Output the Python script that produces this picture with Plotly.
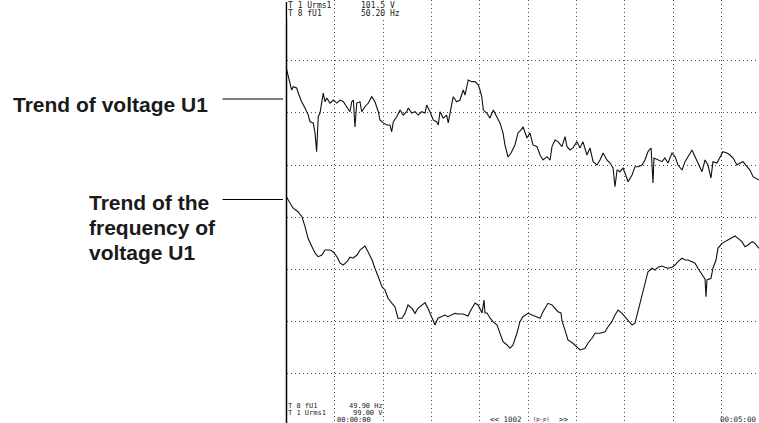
import plotly.graph_objects as go

# ---- recorded trend data (time in seconds from 00:00:00) ----
volt_t = [0.0, 1.1, 2.2, 3.2, 4.2, 6.3, 7.3, 9.4, 11.5, 13.5, 14.6, 16.6, 17.7, 18.7, 19.7, 20.8, 21.8, 22.8, 23.9, 25.0,
          27.0, 29.1, 31.2, 33.2, 35.3, 37.4, 39.4, 40.5, 41.5, 42.5, 43.6, 45.6, 46.7, 48.7, 50.8, 52.9, 54.9, 57.0, 58.0, 60.1,
          62.2, 64.2, 65.3, 66.3, 68.4, 70.5, 72.5, 74.6, 75.6, 77.7, 79.8, 81.8, 83.9, 86.0, 87.0, 89.1, 91.1, 93.2, 94.2, 95.3,
          97.3, 99.4, 100.4, 101.5, 103.5, 105.6, 107.7, 109.7, 110.8, 112.8, 115.0, 117.0, 119.1, 120.1, 121.2, 122.2, 124.3, 126.3, 128.4, 130.5,
          132.5, 134.4, 135.6, 137.5, 139.4, 141.8, 143.7, 145.6, 146.8, 149.3, 151.1, 153.0, 155.5, 157.4, 159.2, 161.7, 163.6, 164.8, 166.7, 168.5,
          171.0, 172.9, 174.1, 176.0, 177.8, 180.3, 182.2, 184.0, 186.5, 188.4, 190.3, 192.7, 194.6, 196.5, 198.9, 200.8, 202.7, 203.9, 205.2, 207.0,
          208.9, 210.1, 212.0, 214.5, 216.3, 218.2, 220.7, 222.5, 224.4, 226.3, 227.5, 228.1, 230.6, 233.1, 234.9, 236.8, 239.3, 241.2, 243.0, 245.5,
          247.4, 249.2, 251.7, 253.6, 255.4, 257.9, 259.8, 261.6, 263.5, 264.7, 267.2, 269.1, 270.9, 273.4, 275.3, 277.2, 279.6, 281.5, 283.4, 285.8,
          287.7, 289.6, 293.3]
volt_u1 = [101.138, 101.092, 101.042, 101.012, 101.032, 101.024, 100.994, 100.942, 100.904, 100.862, 100.822, 100.815, 100.755, 100.643, 100.852, 100.874, 100.934, 100.994, 100.942, 100.964,
           100.934, 100.952, 100.934, 100.952, 100.942, 100.912, 100.882, 100.942, 100.952, 100.791, 100.934, 100.942, 100.882, 100.912, 100.934, 100.972, 100.942, 100.882, 100.833, 100.815,
           100.803, 100.803, 100.762, 100.822, 100.852, 100.892, 100.862, 100.882, 100.904, 100.874, 100.882, 100.862, 100.882, 100.874, 100.922, 100.882, 100.833, 100.822, 100.803, 100.882,
           100.844, 100.862, 100.815, 100.874, 100.972, 100.942, 100.952, 101.012, 100.982, 101.072, 101.062, 101.062, 101.042, 101.012, 100.972, 100.892, 100.874, 100.844, 100.892, 100.852,
           100.815, 100.755, 100.683, 100.611, 100.635, 100.683, 100.755, 100.773, 100.792, 100.725, 100.755, 100.683, 100.673, 100.623, 100.593, 100.613, 100.593, 100.673, 100.713, 100.703,
           100.673, 100.733, 100.673, 100.653, 100.665, 100.703, 100.665, 100.703, 100.623, 100.665, 100.583, 100.563, 100.593, 100.635, 100.593, 100.575, 100.545, 100.433, 100.533, 100.523,
           100.545, 100.515, 100.463, 100.503, 100.553, 100.553, 100.563, 100.593, 100.643, 100.665, 100.455, 100.605, 100.593, 100.583, 100.605, 100.575, 100.635, 100.613, 100.563, 100.533,
           100.583, 100.613, 100.653, 100.613, 100.575, 100.523, 100.593, 100.563, 100.485, 100.583, 100.575, 100.613, 100.643, 100.635, 100.623, 100.605, 100.563, 100.575, 100.583, 100.553,
           100.533, 100.493, 100.473]

freq_t = [0.0, 2.2, 4.0, 7.1, 9.6, 11.5, 13.3, 15.8, 17.7, 19.6, 22.0, 23.9, 27.0, 28.9, 31.3, 33.2, 35.1, 37.6, 39.4, 41.3,
          43.8, 45.6, 48.7, 50.6, 53.1, 54.9, 56.8, 59.3, 61.1, 63.0, 65.5, 67.3, 69.2, 71.7, 73.6, 75.4, 77.9, 79.8, 81.6, 84.1,
          86.0, 87.8, 90.3, 92.2, 94.0, 96.5, 98.4, 100.2, 102.7, 104.6, 106.5, 109.6, 112.7, 113.9, 117.0, 118.9, 121.4, 122.6, 123.2, 124.5,
          126.3, 128.2, 130.7, 132.5, 134.4, 136.9, 138.7, 140.6, 143.1, 144.9, 146.8, 149.9, 152.4, 155.5, 157.4, 159.2, 162.3, 164.8, 166.7, 168.5,
          170.4, 171.0, 172.9, 174.7, 177.8, 180.3, 182.2, 185.3, 187.2, 189.6, 191.5, 194.6, 197.7, 199.6, 202.0, 203.9, 205.8, 208.3, 210.1, 212.0,
          214.5, 216.3, 218.2, 220.7, 222.5, 224.4, 226.9, 228.7, 230.6, 233.1, 234.9, 236.8, 239.3, 241.2, 243.0, 245.5, 247.4, 249.2, 251.7, 253.6,
          255.4, 257.9, 259.8, 260.4, 261.0, 263.5, 264.7, 266.6, 267.8, 270.3, 272.2, 274.1, 276.5, 278.4, 280.3, 282.7, 284.6, 286.5, 289.0, 290.8,
          293.3]
freq_u1 = [50.0646, 50.0603, 50.0567, 50.0540, 50.0504, 50.0433, 50.0351, 50.0289, 50.0244, 50.0217, 50.0229, 50.0265, 50.0265, 50.0253, 50.0217, 50.0172, 50.0157, 50.0181, 50.0213, 50.0206,
           50.0229, 50.0265, 50.0294, 50.0253, 50.0193, 50.0134, 50.0073, 50.0002, 49.9978, 49.9918, 49.9882, 49.9858, 49.9775, 49.9775, 49.9810, 49.9870, 49.9846, 49.9810, 49.9846, 49.9870,
           49.9887, 49.9846, 49.9775, 49.9726, 49.9775, 49.9786, 49.9798, 49.9786, 49.9798, 49.9810, 49.9805, 49.9805, 49.9791, 49.9822, 49.9884, 49.9870, 49.9813, 49.9906, 49.9813, 49.9813,
           49.9777, 49.9750, 49.9726, 49.9669, 49.9606, 49.9583, 49.9559, 49.9583, 49.9669, 49.9750, 49.9786, 49.9810, 49.9798, 49.9786, 49.9775, 49.9822, 49.9882, 49.9870, 49.9846, 49.9822,
           49.9813, 49.9755, 49.9690, 49.9619, 49.9595, 49.9570, 49.9547, 49.9559, 49.9597, 49.9631, 49.9667, 49.9667, 49.9678, 49.9714, 49.9750, 49.9798, 49.9834, 49.9810, 49.9786, 49.9762,
           49.9726, 49.9739, 49.9822, 49.9942, 50.0014, 50.0109, 50.0134, 50.0121, 50.0141, 50.0150, 50.0141, 50.0134, 50.0141, 50.0157, 50.0181, 50.0206, 50.0193, 50.0193, 50.0181, 50.0170,
           50.0134, 50.0086, 50.0055, 49.9930, 50.0050, 50.0062, 50.0134, 50.0193, 50.0277, 50.0313, 50.0325, 50.0337, 50.0349, 50.0366, 50.0349, 50.0325, 50.0289, 50.0301, 50.0325, 50.0313,
           50.0277]

assert len(volt_t) == len(volt_u1)
assert len(freq_t) == len(freq_u1)

# ---- screen scale settings (full scale = 8 vertical divisions, 30 s per division) ----
volt_scale = [99.00, 101.5]      # V, bottom / top
freq_scale = [49.90, 50.20]      # Hz, bottom / top
sec_per_div = 30
n_vdiv = 8

top_labels = ["T 1 Urms1", "T 8 fU1"]
top_values = ["101.5 V", "50.20 Hz"]
bottom_labels = ["T 8 fU1", "T 1 Urms1"]
bottom_values = ["49.90 Hz", "99.00 V"]
time_start, time_end = "00:00:00", "00:05:00"
point_count = "1002"

# ---- page geometry (pixels) ----
W, H = 759, 423
left_px = 286.5          # left frame of the trend window
top_px = 0.0             # top of the trend window
div_w = 48.33            # px per horizontal division
div_h = 52.2             # px per vertical division
scale_top_px = 8.5       # pixel row of the full-scale top value


def px(x):
    return x / W


def py(y):
    return 1 - y / H


def axis_range(scale):
    lo, hi = scale
    per_px = (hi - lo) / (n_vdiv * div_h)
    top = hi + (scale_top_px - top_px) * per_px
    bottom = hi - (H - scale_top_px) * per_px
    return [bottom, top]


x_max = (W - left_px) / div_w * sec_per_div
v_step = (volt_scale[1] - volt_scale[0]) / n_vdiv
grid_v = [volt_scale[1] - k * v_step for k in range(1, n_vdiv)]
grid_t = [k * sec_per_div for k in range(1, 10)]

fig = go.Figure()
fig.add_trace(go.Scatter(x=volt_t, y=volt_u1, mode="lines", yaxis="y",
                         line=dict(color="#101010", width=1.1), showlegend=False))
fig.add_trace(go.Scatter(x=freq_t, y=freq_u1, mode="lines", yaxis="y2",
                         line=dict(color="#101010", width=1.1), showlegend=False))

grid_style = dict(showgrid=True, gridcolor="#4a4a4a", gridwidth=1, griddash="1px,3px",
                  showticklabels=False, ticks="", zeroline=False, showline=False)

fig.update_layout(
    width=W, height=H,
    margin=dict(l=0, r=0, t=0, b=0),
    paper_bgcolor="white", plot_bgcolor="white",
    xaxis=dict(domain=[left_px / W, 1], range=[0, x_max], tickvals=grid_t, **grid_style),
    yaxis=dict(domain=[0, 1], range=axis_range(volt_scale), tickvals=grid_v, **grid_style),
    yaxis2=dict(domain=[0, 1], range=axis_range(freq_scale), overlaying="y",
                showgrid=False, showticklabels=False, ticks="", zeroline=False, showline=False),
)

# left frame line of the trend window
fig.add_shape(type="line", xref="paper", yref="paper",
              x0=px(left_px), x1=px(left_px), y0=py(2), y1=0,
              line=dict(color="black", width=1.5))

# leader lines from the captions
leader = dict(type="line", xref="paper", yref="paper", line=dict(color="black", width=1))
fig.add_shape(x0=px(222.5), x1=px(283), y0=py(99), y1=py(99), **leader)
fig.add_shape(x0=px(222.5), x1=px(283), y0=py(199.5), y1=py(199.5), **leader)

cap_font = dict(family="Liberation Sans, Arial, sans-serif", size=21, color="#1a1a1a")
captions = [("<b>Trend of voltage U1</b>", 11, 104.2),
            ("<b>Trend of the</b>", 87, 202),
            ("<b>frequency of</b>", 87, 227),
            ("<b>voltage U1</b>", 87, 252)]
for text, x, y in captions:
    fig.add_annotation(text=text, x=px(x), y=py(y), xref="paper", yref="paper",
                       xanchor="left", yanchor="middle", showarrow=False, font=cap_font)

mono = dict(family="DejaVu Sans Mono, monospace", size=8, color="#222")


def readout(text, x, y, size=8, bg=None):
    fig.add_annotation(text=text, x=px(x), y=py(y), xref="paper", yref="paper",
                       xanchor="left", yanchor="middle", showarrow=False,
                       font={**mono, "size": size}, bgcolor=bg, borderpad=0)


# upper readout block
for i, (lab, val) in enumerate(zip(top_labels, top_values)):
    readout(lab, 287, 5.5 + 8 * i, bg="white")
    readout(val, 360, 5.5 + 8 * i, bg="white")

# lower readout block
for i, (lab, val) in enumerate(zip(bottom_labels, bottom_values)):
    readout(lab, 287, 405.5 + 7.5 * i, size=7)
    readout(val, 382 - 4.3 * len(val), 405.5 + 7.5 * i, size=7)

readout(time_start, 336, 419.5, size=7)
readout("<< " + point_count, 489, 419, size=7.5)
readout("(p-p)", 532, 419, size=5.5)
readout(">>", 558, 419, size=7.5)
readout(time_end, 719, 419, size=7.5)

fig.write_html("out.html")
